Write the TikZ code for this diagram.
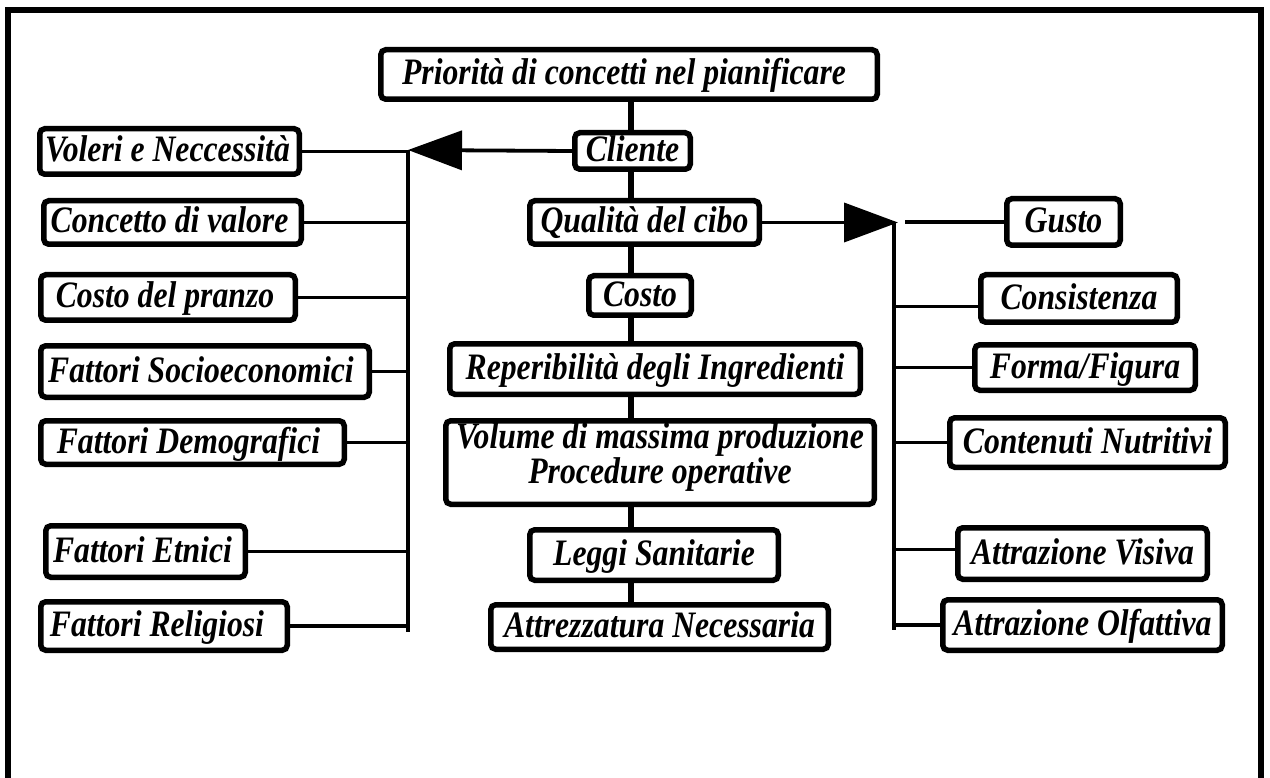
\documentclass[tikz,border=0pt]{standalone}
\usepackage{fontspec}
\setmainfont{Liberation Serif}
\newfontfamily\boxfont{Liberation Serif}[FakeStretch=0.85]
\usetikzlibrary{arrows.meta}
% shift a label sideways inside its box without changing its width
\newcommand\tshift[2]{\hspace*{#1}#2\hspace*{-#1}}
\begin{document}
\begin{tikzpicture}[x=1pt,y=-1pt,
  boxbase/.style={draw, line width=5.5pt, rounded corners=5pt, fill=white, inner sep=0pt,
    font={\fontsize{37.3}{35}\boxfont\bfseries\itshape}},
  box/.style={boxbase, text height=27pt, text depth=6pt},
  spine/.style={line width=5.5pt},
  branch/.style={line width=3.8pt},
  bigarrow/.style={line width=3.8pt, -{Triangle[length=54pt,width=39pt]}},
  frame/.style={line width=6pt}
]
\useasboundingbox (0,0) rectangle (1270,778);
\clip (0,0) rectangle (1270,778);
\fill[white] (0,0) rectangle (1270,778);
\draw[frame] (8,10) rectangle (1261,820);

% central chain
\node[box, minimum width=496.5pt, minimum height=49.5pt] (prio) at (629,74.5) {\tshift{-5pt}{Priorità di concetti nel pianificare}};
\node[box, minimum width=115.5pt, minimum height=36.5pt] (cliente) at (632.5,151) {Cliente};
\node[box, minimum width=229.5pt, minimum height=43.5pt] (qual) at (644.5,222.5) {Qualità del cibo};
\node[box, minimum width=102.5pt, minimum height=39.5pt] (costo) at (640,295.5) {Costo};
\node[box, minimum width=410.5pt, minimum height=50.5pt] (reper) at (655,369) {Reperibilità degli Ingredienti};
\node[boxbase, align=center, minimum width=428.5pt, minimum height=83.5pt] (volume) at (660,462.5) {Volume di massima produzione\\Procedure operative\rule[-19pt]{0pt}{1pt}};
\node[box, minimum width=248.5pt, minimum height=50.5pt] (leggi) at (654,555) {Leggi Sanitarie};
\node[box, minimum width=337.5pt, minimum height=44.5pt] (attrezz) at (659.5,627) {Attrezzatura Necessaria};

% customer factors
\node[box, minimum width=259.5pt, minimum height=45.5pt] (voleri) at (169.5,151.5) {\tshift{-2pt}{Voleri e Neccessità}};
\node[box, minimum width=257.5pt, minimum height=43.5pt] (concetto) at (172.5,222.5) {\tshift{-3pt}{Concetto di valore}};
\node[box, minimum width=254.5pt, minimum height=45.5pt] (costopr) at (168,297.5) {\tshift{-3pt}{Costo del pranzo}};
\node[box, minimum width=328.5pt, minimum height=51.5pt] (socio) at (205,371.5) {\tshift{-4pt}{Fattori Socioeconomici}};
\node[box, minimum width=303.5pt, minimum height=43.5pt] (demo) at (192.5,442.5) {\tshift{-4pt}{Fattori Demografici}};
\node[box, minimum width=199.5pt, minimum height=51.5pt] (etnici) at (145.5,551.5) {\tshift{-3pt}{Fattori Etnici}};
\node[box, minimum width=246.5pt, minimum height=48.5pt] (relig) at (164,626) {\tshift{-7pt}{Fattori Religiosi}};

% food quality factors
\node[box, minimum width=113.5pt, minimum height=46.5pt] (gusto) at (1063.5,222) {Gusto};
\node[box, minimum width=196.5pt, minimum height=47.5pt] (cons) at (1079,298.5) {Consistenza};
\node[box, minimum width=220.5pt, minimum height=45.5pt] (forma) at (1085,367.5) {Forma/Figura};
\node[box, minimum width=275.5pt, minimum height=49.5pt] (contenuti) at (1087.5,442.5) {Contenuti Nutritivi};
\node[box, minimum width=249.5pt, minimum height=51.5pt] (visiva) at (1082.5,553.5) {Attrazione Visiva};
\node[box, minimum width=279.5pt, minimum height=50.5pt] (olfatt) at (1082.5,625) {Attrazione Olfattiva};

% bus coordinates
\coordinate (sx) at (631,0);
\coordinate (ltip) at (408,150);
\coordinate (lbot) at (408,632);
\coordinate (rtip) at (898,222.5);
\coordinate (rtop) at (894,222);
\coordinate (rbot) at (894,630);
\coordinate (gstart) at (905,222);

% spine
\draw[spine] (prio.south -| sx) -- (cliente.north -| sx);
\draw[spine] (cliente.south -| sx) -- (qual.north -| sx);
\draw[spine] (qual.south -| sx) -- (costo.north -| sx);
\draw[spine] (costo.south -| sx) -- (reper.north -| sx);
\draw[spine] (reper.south -| sx) -- (volume.north -| sx);
\draw[spine] (volume.south -| sx) -- (leggi.north -| sx);
\draw[spine] (leggi.south -| sx) -- (attrezz.north -| sx);

% left branch
\draw[bigarrow] (cliente.west) -- (ltip);
\draw[branch] (ltip) -- (lbot);
\draw[branch] (voleri.east) -- (voleri.east -| ltip);
\draw[branch] (concetto.east) -- (concetto.east -| ltip);
\draw[branch] (costopr.east) -- (costopr.east -| ltip);
\draw[branch] (socio.east) -- (socio.east -| ltip);
\draw[branch] (demo.east) -- (demo.east -| ltip);
\draw[branch] (etnici.east) -- (etnici.east -| ltip);
\draw[branch] (relig.east) -- (relig.east -| ltip);

% right branch
\draw[bigarrow] (qual.east) -- (rtip);
\draw[branch] (rtop) -- (rbot);
\draw[branch] (gstart) -- (gusto.west);
\draw[branch] ([yshift=-8pt]cons.west) -- ([yshift=-8pt]cons.west -| rtop);
\draw[branch] (forma.west) -- (forma.west -| rtop);
\draw[branch] (contenuti.west) -- (contenuti.west -| rtop);
\draw[branch] ([yshift=4pt]visiva.west) -- ([yshift=4pt]visiva.west -| rtop);
\draw[branch] (olfatt.west) -- (olfatt.west -| rtop);
\end{tikzpicture}
\end{document}
